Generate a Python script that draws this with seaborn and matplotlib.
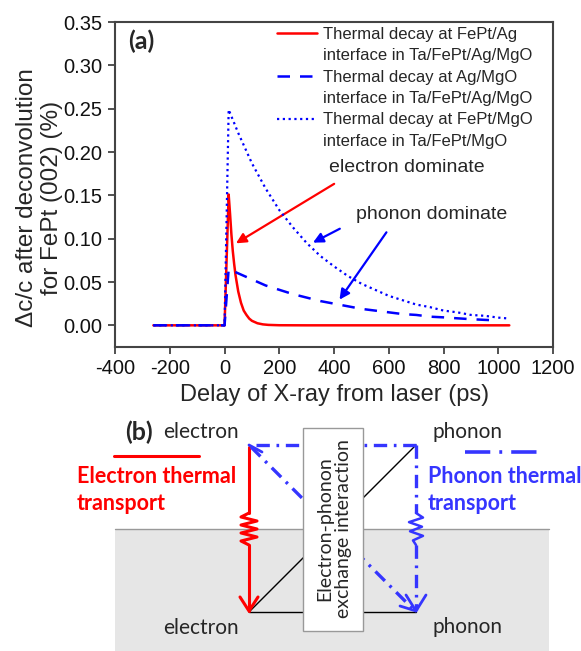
import numpy as np
import pandas as pd
import seaborn as sns
import matplotlib.pyplot as plt
from matplotlib.patches import Rectangle
from matplotlib.lines import Line2D
from matplotlib.ticker import FormatStrFormatter

# ---------------- data ----------------
delay_red = [-260, 0, 15, 20, 25, 30, 35, 40, 50, 60, 70, 80, 90, 100,
             120, 140, 160, 200, 300, 1040]
dc_red = [0, 0, 0.151, 0.129, 0.105, 0.086, 0.071, 0.058, 0.039, 0.026,
          0.017, 0.012, 0.0078, 0.0052, 0.0024, 0.0011, 0.0005, 0.0001, 0, 0]

delay_dash = [-260, 0, 15, 50, 100, 150, 200, 250, 300, 350, 400, 450, 500,
              550, 600, 650, 700, 750, 800, 850, 900, 950, 1000]
dc_dash = [0, 0, 0.065, 0.060, 0.053, 0.046, 0.041, 0.036, 0.032, 0.028,
           0.025, 0.022, 0.019, 0.017, 0.015, 0.013, 0.012, 0.010, 0.0092,
           0.0081, 0.0071, 0.0063, 0.0056]

delay_dot = [-260, 0, 15, 50, 100, 150, 200, 250, 300, 350, 400, 450, 500,
             550, 600, 650, 700, 750, 800, 850, 900, 950, 1000, 1040]
dc_dot = [0, 0, 0.249, 0.222, 0.187, 0.158, 0.133, 0.113, 0.095, 0.080,
          0.068, 0.057, 0.048, 0.041, 0.034, 0.029, 0.024, 0.021, 0.017,
          0.015, 0.012, 0.011, 0.0089, 0.0078]

legend_labels = ["Thermal decay at FePt/Ag", "interface in Ta/FePt/Ag/MgO",
                 "Thermal decay at Ag/MgO", "interface in Ta/FePt/Ag/MgO",
                 "Thermal decay at FePt/MgO", "interface in Ta/FePt/MgO"]
x_ticks = [-400, -200, 0, 200, 400, 600, 800, 1000, 1200]
y_ticks = [0.00, 0.05, 0.10, 0.15, 0.20, 0.25, 0.30, 0.35]

RED = "#ff0000"
BLUE = "#0000ff"
BLUE_B = "#3535ff"

sns.set_theme(style="ticks")
plt.rcParams['font.family'] = ['Liberation Sans', 'DejaVu Sans']
plt.rcParams['axes.unicode_minus'] = False

fig = plt.figure(figsize=(5.81, 6.51), dpi=100)
ax = fig.add_axes([0.198, 0.467, 0.754, 0.499])

sns.lineplot(x=delay_red, y=dc_red, ax=ax, color=RED, lw=1.8,
             estimator=None, sort=False, zorder=3)
sns.lineplot(x=delay_dash, y=dc_dash, ax=ax, color=BLUE, lw=1.8,
             estimator=None, sort=False, zorder=4)
ax.lines[-1].set_dashes([5, 4])
sns.lineplot(x=delay_dot, y=dc_dot, ax=ax, color=BLUE, lw=1.6,
             estimator=None, sort=False, zorder=5)
ax.lines[-1].set_dashes([1, 1.6])

ax.set_xlim(-400, 1200)
ax.set_ylim(-0.025, 0.35)
ax.set_xticks(x_ticks)
ax.set_yticks(y_ticks)
ax.yaxis.set_major_formatter(FormatStrFormatter('%.2f'))
ax.tick_params(direction='out', length=5, width=1.2, labelsize=14.5,
               color='#333333', labelcolor='#111111', pad=4)
for s in ax.spines.values():
    s.set_linewidth(1.5)
    s.set_color('#444444')

ax.set_xlabel("Delay of X-ray from laser (ps)", fontsize=17, labelpad=4)
ax.set_ylabel("\u0394c/c after deconvolution\nfor FePt (002) (%)", fontsize=17.5,
              linespacing=1.2)
ax.yaxis.set_label_coords(-0.118, 0.46)

# legend: handle aligned with first line of each entry
handles = [Line2D([], [], color=RED, lw=1.8), Line2D([], [], color='none'),
           Line2D([], [], color=BLUE, lw=1.8, dashes=[5, 4]), Line2D([], [], color='none'),
           Line2D([], [], color=BLUE, lw=1.6, dashes=[1, 1.6]), Line2D([], [], color='none')]
ax.legend(handles, legend_labels, loc='upper left', bbox_to_anchor=(0.37, 0.985),
          frameon=False, fontsize=12, handlelength=2.4, handletextpad=0.35,
          labelspacing=0.38, borderpad=0, borderaxespad=0)

ax.text(0.03, 0.94, "(a)", transform=ax.transAxes, fontsize=18,
        fontweight='bold', family=['Lato', 'DejaVu Sans'], va='center')

ax.text(664, 0.182, "electron dominate", fontsize=14, ha='center', va='center')
ax.text(757, 0.128, "phonon dominate", fontsize=14, ha='center', va='center')
ax.annotate('', xy=(33, 0.093), xytext=(409, 0.165),
            arrowprops=dict(arrowstyle='-|>', color=RED, lw=1.6, mutation_scale=15))
ax.annotate('', xy=(314, 0.094), xytext=(430, 0.113),
            arrowprops=dict(arrowstyle='-|>', color=BLUE, lw=1.6, mutation_scale=15))
ax.annotate('', xy=(414, 0.027), xytext=(597, 0.110),
            arrowprops=dict(arrowstyle='-|>', color=BLUE, lw=1.6, mutation_scale=15))

# ---------------- (b) schematic, in pixel coordinates ----------------
axb = fig.add_axes([0, 0, 1, 1])
axb.set_xlim(0, 581)
axb.set_ylim(651, 0)
axb.axis('off')
fb = ['Lato', 'DejaVu Sans']

axb.add_patch(Rectangle((115, 529), 434, 130, facecolor='#e6e6e6',
                        edgecolor='none', zorder=1))
axb.plot([115, 549], [529, 529], color='#999999', lw=1.0, zorder=1.5)

# black lines
axb.plot([249, 416], [612, 612], color='black', lw=1.0, zorder=2)
axb.plot([249, 416], [612, 445], color='black', lw=1.0, zorder=2)

# red electron transport arrow with zigzag
zz_y = np.linspace(513, 545, 9)
zz_x = 249 + np.array([0, -8, 8, -8, 8, -8, 8, -8, 0])
axb.plot([249, 249], [447, 513], color=RED, lw=2.2, zorder=3)
axb.plot(zz_x, zz_y, color=RED, lw=2.2, zorder=3, solid_joinstyle='round')
axb.plot([249, 249], [545, 611], color=RED, lw=2.2, zorder=3)
axb.plot([240, 249, 258], [597, 611, 597], color=RED, lw=2.2, zorder=3)
axb.plot([114, 199], [455.5, 455.5], color=RED, lw=2.2)

# blue phonon transport (dash-dot)
dd = [4, 2, 0.8, 2]
l, = axb.plot([416, 249], [445, 445], color=BLUE_B, lw=2.4, zorder=3)
l.set_dashes(dd)
axb.plot([249, 262], [445, 452], color=BLUE_B, lw=2.0, zorder=3)
l, = axb.plot([251, 414], [447, 610], color=BLUE_B, lw=2.4, zorder=3)
l.set_dashes(dd)
l, = axb.plot([416, 416], [445, 513], color=BLUE_B, lw=2.4, zorder=3)
l.set_dashes(dd)
zb_y = np.linspace(513, 545, 8)
zb_x = 416 + np.array([0, 7, -7, 6, -6, 7, -3, 0])
axb.plot(zb_x, zb_y, color=BLUE_B, lw=1.8, zorder=3)
l, = axb.plot([416, 416], [545, 610], color=BLUE_B, lw=2.4, zorder=3)
l.set_dashes(dd)
axb.plot([406, 416, 426], [595, 611, 595], color=BLUE_B, lw=2.0, zorder=3)
axb.plot([400, 416], [606, 611], color=BLUE_B, lw=2.0, zorder=3)
l, = axb.plot([465, 540], [452, 452], color=BLUE_B, lw=2.6)
l.set_dashes([7, 2.5, 0.8, 2.5])

# exchange box
axb.add_patch(Rectangle((303, 428), 60, 203, facecolor='white',
                        edgecolor='#999999', lw=1.0, zorder=4))
axb.text(334, 529, "Electron-phonon\nexchange interaction", rotation=90,
         ha='center', va='center', fontsize=14, family=fb, zorder=5,
         linespacing=1.1, multialignment='center')

# labels
axb.text(139, 432, "(b)", fontsize=18, fontweight='bold', family=fb,
         ha='center', va='center')
axb.text(201, 432, "electron", fontsize=15, family=fb, ha='center', va='center')
axb.text(201, 628, "electron", fontsize=15, family=fb, ha='center', va='center')
axb.text(467, 432, "phonon", fontsize=15, family=fb, ha='center', va='center')
axb.text(467, 627, "phonon", fontsize=15, family=fb, ha='center', va='center')
axb.text(77, 490, "Electron thermal\ntransport", fontsize=15.5, fontweight='bold',
         family=fb, color=RED, ha='left', va='center', linespacing=1.35)
axb.text(428, 490, "Phonon thermal\ntransport", fontsize=15.5, fontweight='bold',
         family=fb, color=BLUE_B, ha='left', va='center', linespacing=1.35)

fig.savefig("out.png", dpi=100)
